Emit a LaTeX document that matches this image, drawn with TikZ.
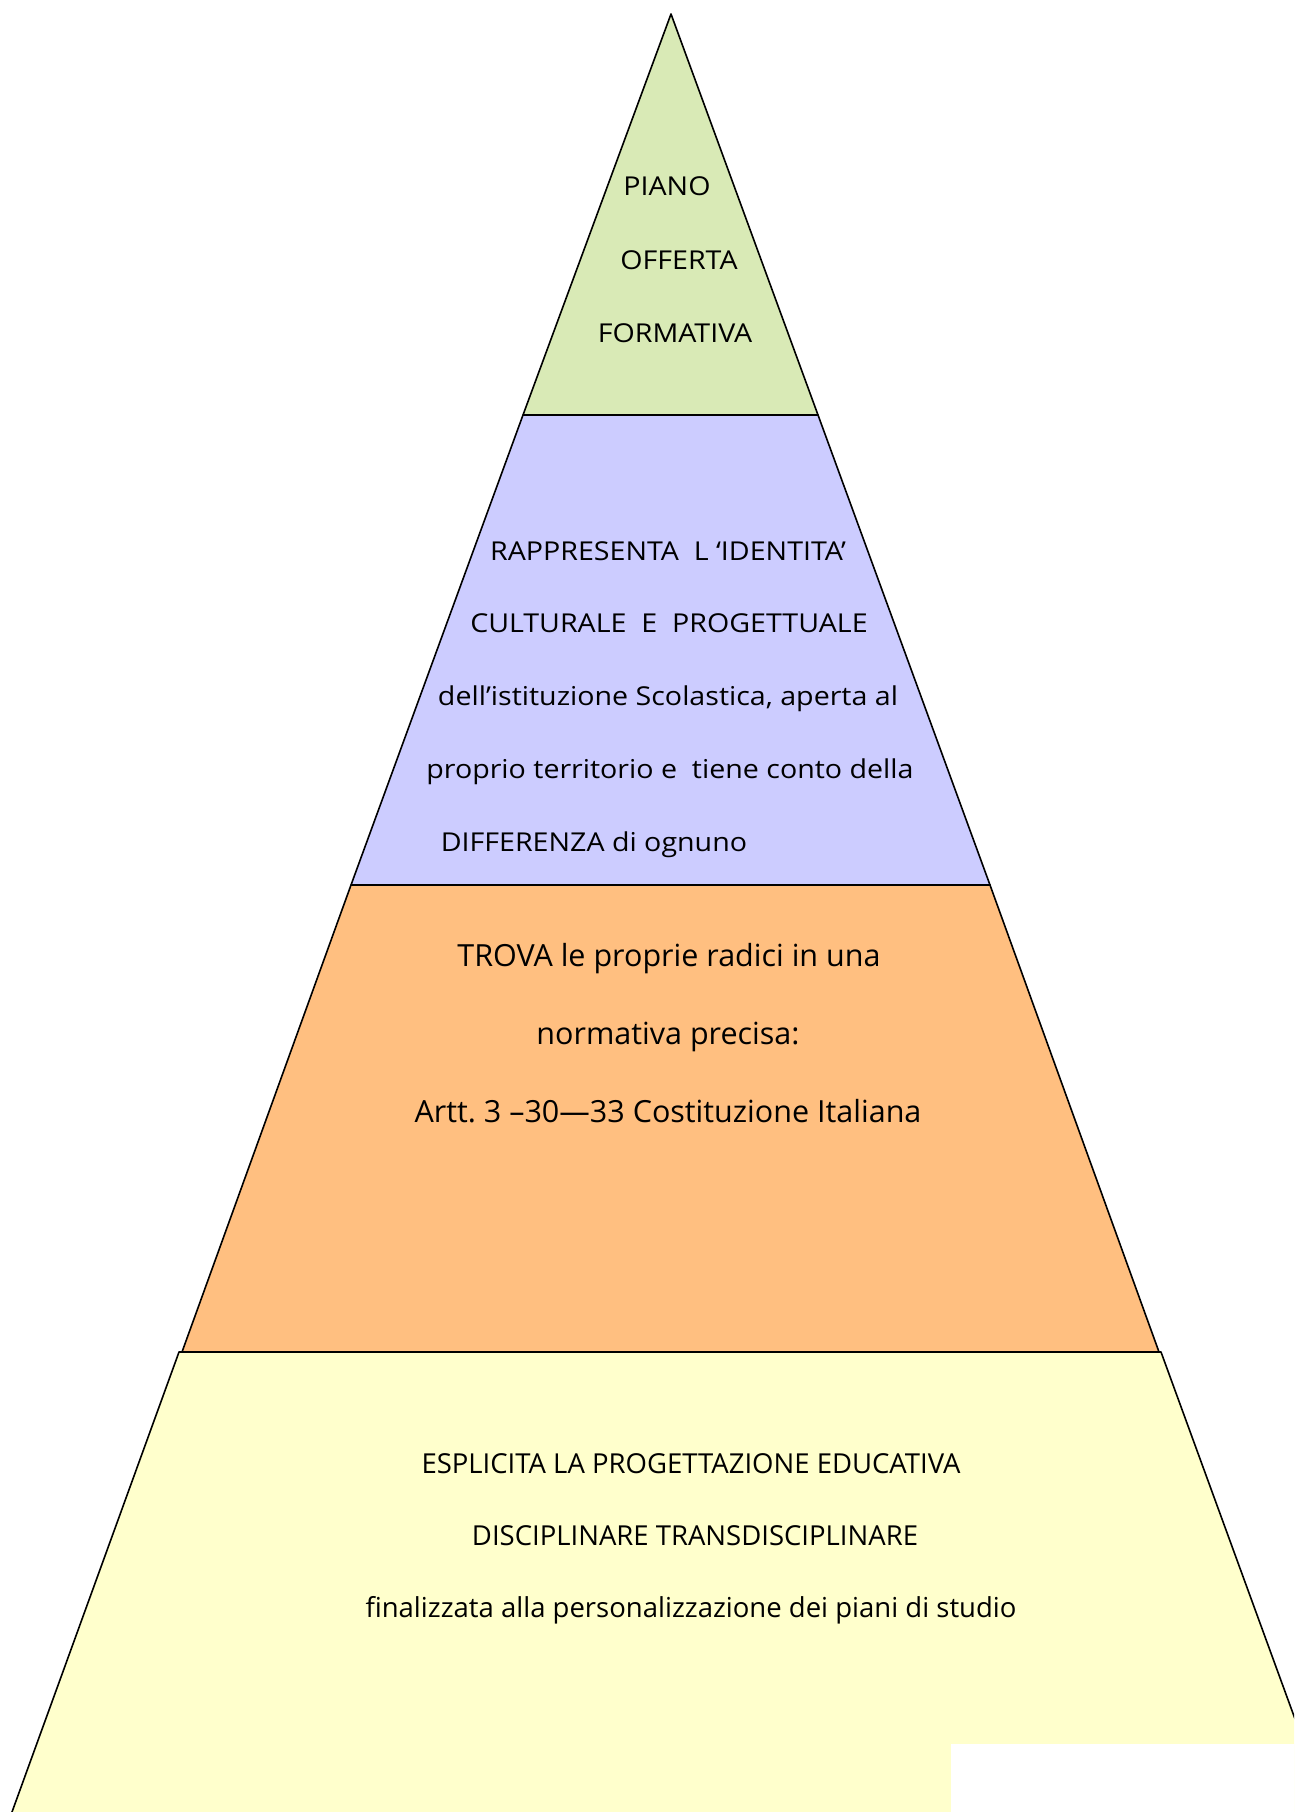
\documentclass[tikz,border=0pt]{standalone}
\usepackage{fontspec}
\setmainfont{Open Sans}
\newfontfamily\widefont[FakeStretch=1.1]{Open Sans}
\usetikzlibrary{positioning}

\definecolor{topgreen}{HTML}{D9EAB6}
\definecolor{midlilac}{HTML}{CCCCFF}
\definecolor{lowpeach}{HTML}{FFBF80}
\definecolor{baseyellow}{HTML}{FFFFCC}

\begin{document}
\begin{tikzpicture}[x=1pt,y=-1pt,line width=1.6pt,line join=round,%
  upper/.style={font=\widefont\fontsize{26}{30}\selectfont,anchor=base,inner sep=0pt},%
  middle/.style={font=\fontsize{30.5}{35}\selectfont,anchor=base,inner sep=0pt},%
  lower/.style={font=\fontsize{27.5}{32}\selectfont,anchor=base,inner sep=0pt}]
  \useasboundingbox (0,0) rectangle (1294,1812);
  \clip (0,0) rectangle (1294,1812);

  \coordinate (apex) at (671,14);
  \coordinate (a1) at (523,415);  \coordinate (b1) at (818,415);
  \coordinate (a2) at (351,885);  \coordinate (b2) at (990,885);
  \coordinate (a3) at (182,1352); \coordinate (b3) at (1159,1352);
  \coordinate (c3) at (179,1352); \coordinate (d3) at (1161,1352);
  \coordinate (a4) at (12,1812);  \coordinate (b4) at (1329,1812);

  \fill[baseyellow] (c3) -- (d3) -- (b4) -- (a4) -- cycle;
  \draw (a4) -- (c3) -- (d3) -- (b4);
  \filldraw[fill=lowpeach] (a2) -- (b2) -- (b3) -- (a3) -- cycle;
  \filldraw[fill=midlilac] (a1) -- (b1) -- (b2) -- (a2) -- cycle;
  \filldraw[fill=topgreen] (apex) -- (b1) -- (a1) -- cycle;
  \fill[white] (951,1744) rectangle (1294,1812);

  \node[upper] (piano)     at (667,195) {PIANO};
  \node[upper] (offerta)   at (679,269) {OFFERTA};
  \node[upper] (formativa) at (675,342) {FORMATIVA};

  \node[upper] (ident)   at (668,560) {RAPPRESENTA\ \ L ‘IDENTITA’};
  \node[upper] (cultura) at (669,632) {CULTURALE\ \ E\ \ PROGETTUALE};
  \node[upper] (istit)   at (668,705) {dell’istituzione Scolastica, aperta al};
  \node[upper] (territ)  at (670,778) {proprio territorio e\ \ tiene conto della};
  \node[upper,anchor=base west] (diff) at (440,851) {DIFFERENZA di ognuno};

  \node[middle] (trova)  at (669,966)  {TROVA le proprie radici in una};
  \node[middle] (norma)  at (668,1044) {normativa precisa:};
  \node[middle] (artt)   at (668,1122) {Artt.\ 3 –30—33 Costituzione Italiana};

  \node[lower] (esplic)  at (691,1473) {ESPLICITA LA PROGETTAZIONE EDUCATIVA};
  \node[lower] (discip)  at (695,1545) {DISCIPLINARE TRANSDISCIPLINARE};
  \node[lower] (final)   at (691,1617) {finalizzata alla personalizzazione dei piani di studio};
\end{tikzpicture}
\end{document}
